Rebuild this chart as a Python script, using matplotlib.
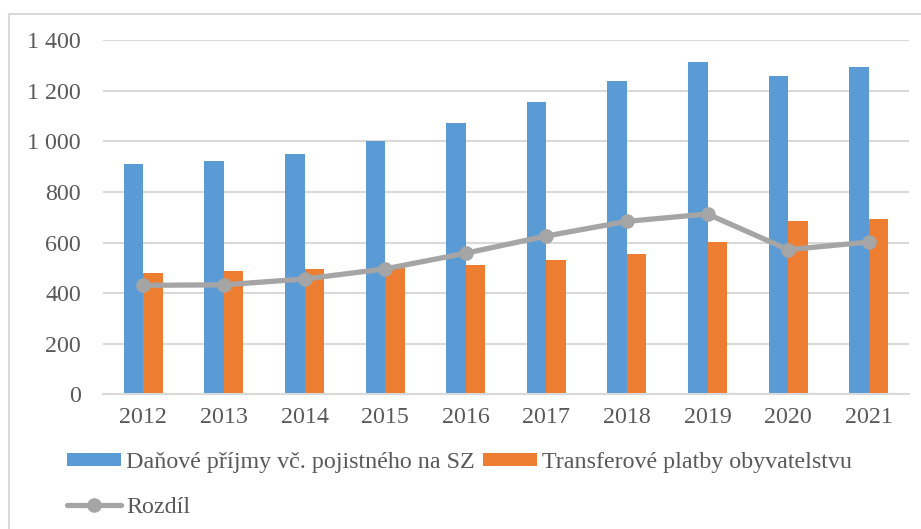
import matplotlib
matplotlib.use("Agg")
import matplotlib.pyplot as plt
import numpy as np
from matplotlib.lines import Line2D
from matplotlib.ticker import FuncFormatter

years = ["2012", "2013", "2014", "2015", "2016", "2017", "2018", "2019", "2020", "2021"]
dane = [912, 922, 951, 1002, 1071, 1156, 1239, 1315, 1259, 1294]
transfery = [480, 488, 494, 505, 513, 530, 555, 601, 687, 692]
rozdil = [431, 433, 456, 496, 558, 626, 684, 713, 572, 602]

lbl_dane = "Daňové příjmy vč. pojistného na SZ"
lbl_tr = "Transferové platby obyvatelstvu"
lbl_roz = "Rozdíl"

plt.rcParams['font.family'] = ['Liberation Serif', 'DejaVu Serif']
text_color = "#595959"
grid_color = "#D9D9D9"
fs = 17.3

fig = plt.figure(figsize=(9.21, 5.29), dpi=100)
ax = fig.add_axes([103/921, 1 - 394.3/529, (909-103)/921, (394.3-40.3)/529])

x = np.arange(len(years))
w = 0.242
b1 = ax.bar(x - w/2, dane, width=w, color="#5B9BD5", label=lbl_dane, zorder=2)
b2 = ax.bar(x + w/2, transfery, width=w, color="#ED7D31", label=lbl_tr, zorder=2)
l1, = ax.plot(x, rozdil, color="#A5A5A5", lw=3.8, marker="o", markersize=9.5,
              label=lbl_roz, zorder=3, solid_capstyle="round")

ax.set_xlim(-0.5, len(years) - 0.5)
ax.set_ylim(0, 1400)
ax.set_yticks(np.arange(0, 1401, 200))
ax.yaxis.set_major_formatter(FuncFormatter(lambda v, p: f"{int(v):,}".replace(",", " ")))
ax.set_xticks(x)
ax.set_xticklabels(years)
ax.grid(axis="y", color=grid_color, lw=1.5, zorder=0)
ax.set_axisbelow(True)
for s in ["top", "right", "left"]:
    ax.spines[s].set_visible(False)
ax.spines["bottom"].set_color(grid_color)
ax.spines["bottom"].set_linewidth(1.5)
ax.tick_params(axis="both", length=0, labelsize=fs, colors=text_color)
ax.tick_params(axis="y", pad=16)
ax.tick_params(axis="x", pad=9)

leg = fig.legend([b1, l1, b2], [lbl_dane, lbl_roz, lbl_tr], ncol=2,
                 loc="upper left", bbox_to_anchor=(67/921, 1 - 452/529),
                 frameon=False, fontsize=fs, handlelength=2.25, handleheight=0.47,
                 handletextpad=0.2, columnspacing=0.35, labelspacing=1.0,
                 borderpad=0, borderaxespad=0)
for t in leg.get_texts():
    t.set_color(text_color)

# chart border (partially cropped)
fig.add_artist(Line2D([9/921, 9/921], [0, 1 - 14/529], color=grid_color, lw=1.5,
                      transform=fig.transFigure))
fig.add_artist(Line2D([9/921, 1], [1 - 14/529, 1 - 14/529], color=grid_color, lw=1.5,
                      transform=fig.transFigure))

fig.savefig("out.png", dpi=100)
